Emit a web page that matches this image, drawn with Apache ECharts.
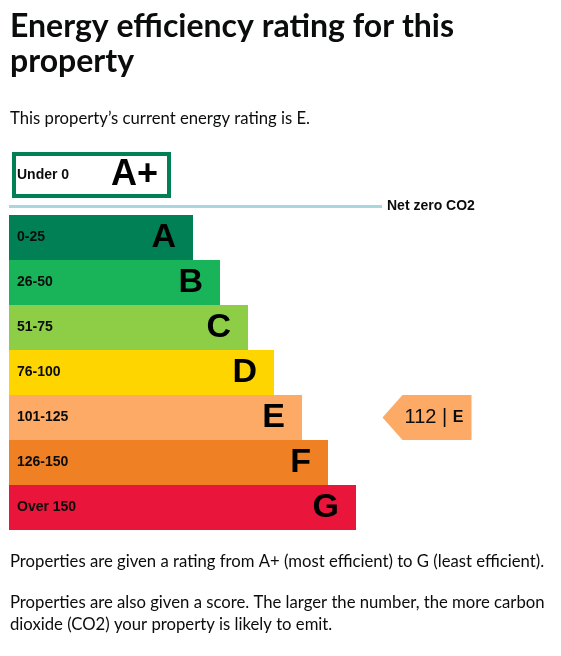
<!DOCTYPE html>
<html>
<head>
<meta charset="utf-8">
<script src="https://cdn.jsdelivr.net/npm/echarts@6/dist/echarts.min.js"></script>
<style>
html,body{margin:0;padding:0;background:#fff;}
#chart{width:561px;height:656px;}
</style>
</head>
<body>
<div id="chart"></div>
<script>
// ---- data ----
const bands = ['A', 'B', 'C', 'D', 'E', 'F', 'G'];
const ranges = ['0-25', '26-50', '51-75', '76-100', '101-125', '126-150', 'Over 150'];
const barLengths = [184, 211, 239, 265, 293, 319, 347];
const bandColors = ['#008054', '#19b459', '#8dce46', '#ffd500', '#fcaa65', '#ef8023', '#e9153b'];
const plusBand = ['A+'];
const plusRange = ['Under 0'];
const plusLength = [159];
const currentScore = 112;
const currentBand = 'E';
const currentPos = 418;
const titleLines = ['Energy efficiency rating for this', 'property'];
const introText = 'This property\u2019s current energy rating is E.';
const noteLines = [
  'Properties are given a rating from A+ (most efficient) to G (least efficient).',
  'Properties are also given a score. The larger the number, the more carbon',
  'dioxide (CO2) your property is likely to emit.'
];
const netZeroLabel = 'Net zero CO2';

const chart = echarts.init(document.getElementById('chart'), null, {renderer: 'canvas'});
const bodyFont = 'Lato, sans-serif';
const textColor = '#0b0c0c';
const arial = 'Arial, "Liberation Sans"';

const option = {
  animation: false,
  backgroundColor: '#ffffff',
  grid: [
    {left: 12, right: 0, top: 152, height: 46},
    {left: 9, right: 0, top: 215, height: 315}
  ],
  xAxis: [
    {gridIndex: 0, type: 'value', min: 0, max: 549, show: false},
    {gridIndex: 1, type: 'value', min: 0, max: 552, show: false}
  ],
  yAxis: [
    {
      gridIndex: 0, type: 'category', data: plusBand, inverse: true, z: 10,
      axisLine: {show: false}, axisTick: {show: false},
      axisLabel: {inside: true, margin: 5, formatter: (v, i) => plusRange[i],
        fontFamily: arial, fontWeight: 'bold', fontSize: 14, color: textColor}
    },
    {
      gridIndex: 1, type: 'category', data: bands, inverse: true, z: 10,
      axisLine: {show: false}, axisTick: {show: false},
      axisLabel: {inside: true, margin: 8, formatter: (v, i) => ranges[i],
        fontFamily: arial, fontWeight: 'bold', fontSize: 14, color: textColor}
    }
  ],
  series: [
    {
      type: 'bar', xAxisIndex: 0, yAxisIndex: 0,
      data: plusLength, barWidth: '100%',
      itemStyle: {color: '#ffffff', borderColor: '#008054', borderWidth: 4},
      label: {show: true, position: 'insideRight', distance: 13, formatter: '{b}',
        fontFamily: arial, fontWeight: 'bold', fontSize: 36, color: '#000'}
    },
    {
      type: 'bar', xAxisIndex: 1, yAxisIndex: 1,
      data: barLengths.map((v, i) => ({value: v, itemStyle: {color: bandColors[i]}})),
      barWidth: '100%',
      label: {show: true, position: 'insideRight', distance: 17, offset: [0, 0], formatter: '{b}',
        fontFamily: arial, fontWeight: 'bold', fontSize: 34, color: '#000'}
    },
    {
      type: 'scatter', xAxisIndex: 1, yAxisIndex: 1, z: 5,
      data: [[currentPos, currentBand]],
      symbol: 'path://M0 22.5 L20 0 L89 0 L89 45 L20 45 Z',
      symbolSize: [89, 45],
      itemStyle: {color: bandColors[bands.indexOf(currentBand)], opacity: 1},
      label: {
        show: true, position: 'inside', offset: [7, 0],
        formatter: () => '{n|' + currentScore + ' | }{b|' + currentBand + '}',
        rich: {
          n: {fontFamily: arial, fontSize: 20, color: textColor},
          b: {fontFamily: arial, fontSize: 16, fontWeight: 'bold', color: textColor}
        }
      }
    }
  ],
  graphic: [
    {type: 'text', left: 10, top: 11, style: {text: titleLines[0], font: 'bold 32px ' + bodyFont, fill: textColor}},
    {type: 'text', left: 10, top: 46, style: {text: titleLines[1], font: 'bold 32px ' + bodyFont, fill: textColor}},
    {type: 'text', left: 10, top: 110, style: {text: introText, font: '16.7px ' + bodyFont, fill: textColor}},
    {type: 'line', shape: {x1: 9, y1: 206.5, x2: 382, y2: 206.5}, style: {stroke: '#a9d5e1', lineWidth: 3}},
    {type: 'text', x: 387, y: 206, style: {text: netZeroLabel, font: 'bold 14px ' + arial, fill: textColor, textVerticalAlign: 'middle'}},
    {type: 'text', left: 10, top: 553, style: {text: noteLines[0], font: '16.7px ' + bodyFont, fill: textColor}},
    {type: 'text', left: 10, top: 594, style: {text: noteLines[1], font: '16.7px ' + bodyFont, fill: textColor}},
    {type: 'text', left: 10, top: 616, style: {text: noteLines[2], font: '16.7px ' + bodyFont, fill: textColor}}
  ]
};
chart.setOption(option);
</script>
</body>
</html>
